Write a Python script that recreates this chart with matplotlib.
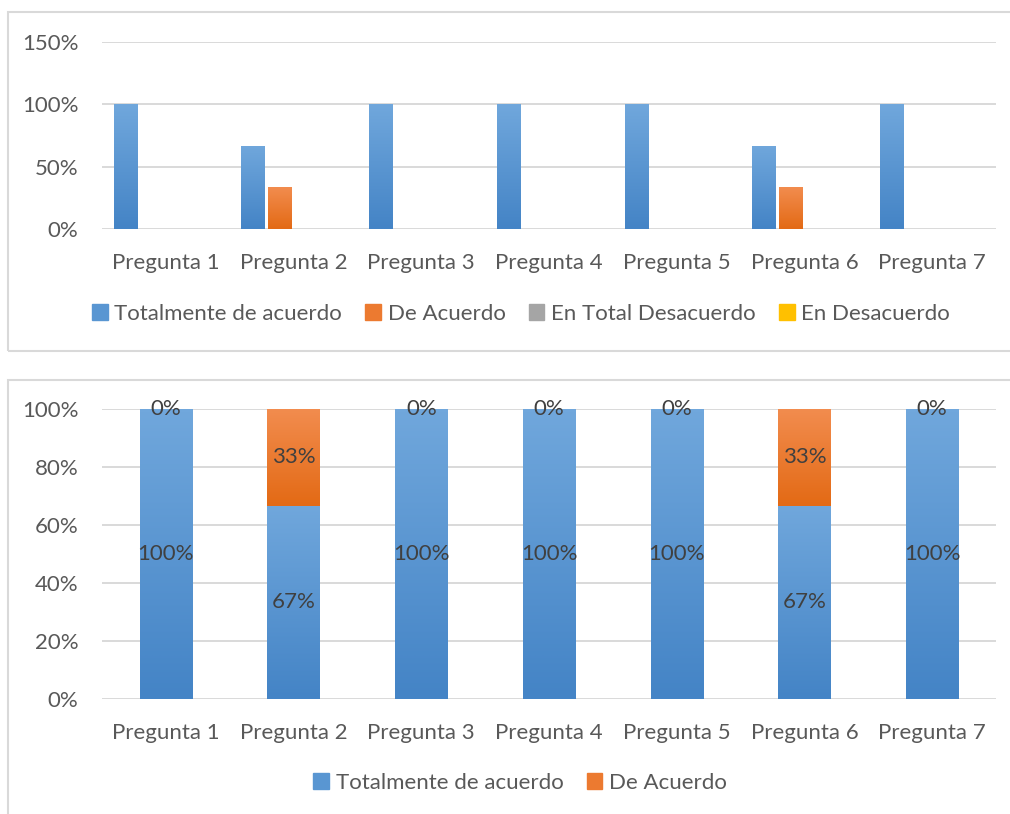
import numpy as np
import matplotlib
matplotlib.use("Agg")
import matplotlib.pyplot as plt
from matplotlib.patches import Rectangle, Patch
from matplotlib.colors import LinearSegmentedColormap

plt.rcParams['font.family'] = ['Lato', 'DejaVu Sans']

preguntas = ["Pregunta 1", "Pregunta 2", "Pregunta 3", "Pregunta 4",
             "Pregunta 5", "Pregunta 6", "Pregunta 7"]
series_arriba = ["Totalmente de acuerdo", "De Acuerdo",
                 "En Total Desacuerdo", "En Desacuerdo"]
totalmente = [1.0, 0.667, 1.0, 1.0, 1.0, 0.667, 1.0]
de_acuerdo = [0.0, 0.333, 0.0, 0.0, 0.0, 0.333, 0.0]
total_desacuerdo = [0, 0, 0, 0, 0, 0, 0]
en_desacuerdo = [0, 0, 0, 0, 0, 0, 0]
ticks_arriba = [0, 0.5, 1.0, 1.5]
ticks_abajo = [0, 0.2, 0.4, 0.6, 0.8, 1.0]

# colores tipo Excel (arriba, abajo del degradado)
colores = [("#70a7dc", "#4484c6"), ("#f28c4e", "#e36a15"),
           ("#b0b0b0", "#999999"), ("#ffc91a", "#e8b000")]
solidos = ["#5996d2", "#ec7a30", "#a5a5a5", "#ffc000"]
texto = "#595959"
grid = "#d9d9d9"
fs = 16

W, H = 1010, 814
fig = plt.figure(figsize=(W / 100, H / 100), dpi=100)

def px(x0, y0, x1, y1):  # caja en pixeles (y desde arriba) -> coords figura
    return [x0 / W, 1 - y1 / H, (x1 - x0) / W, (y1 - y0) / H]

def degradado(ax, barras, top, bottom):
    cmap = LinearSegmentedColormap.from_list("g", [bottom, top])
    for b in barras:
        if b.get_height() <= 0:
            continue
        x, y = b.get_xy()
        im = ax.imshow(np.linspace(0, 1, 64).reshape(-1, 1), cmap=cmap,
                       origin="lower", aspect="auto", interpolation="bilinear",
                       extent=[x, x + b.get_width(), y, y + b.get_height()],
                       zorder=3)
        im.set_clip_path(b)

def estilo(ax, ticks, pad_x, pad_y):
    ax.set_yticks(ticks)
    ax.set_yticklabels([f"{t:.0%}" for t in ticks])
    ax.set_xticks(range(len(preguntas)))
    ax.set_xticklabels(preguntas)
    ax.set_xlim(-0.5, len(preguntas) - 0.5)
    ax.set_ylim(0, ticks[-1])
    ax.grid(axis="y", color=grid, lw=1.4, zorder=0)
    ax.set_axisbelow(True)
    for s in ax.spines.values():
        s.set_visible(False)
    ax.tick_params(length=0, labelsize=fs, labelcolor=texto)
    ax.tick_params(axis="x", pad=pad_x)
    ax.tick_params(axis="y", pad=pad_y)

# marcos de los dos graficos
fig.add_artist(Rectangle((8 / W, 1 - 351 / H), 1.2, 339 / H, transform=fig.transFigure,
                         fill=False, ec=grid, lw=1.5))
fig.add_artist(Rectangle((8 / W, -0.1), 1.2, 0.1 + 1 - 380 / H, transform=fig.transFigure,
                         fill=False, ec=grid, lw=1.5))

# grafico de barras agrupadas
ax1 = fig.add_axes(px(102, 42, 996, 229))
x = np.arange(len(preguntas))
valores = [totalmente, de_acuerdo, total_desacuerdo, en_desacuerdo]
ancho = 0.184
for i, vals in enumerate(valores):
    barras = ax1.bar(x + (i - 1.5) * 0.211, vals, ancho, color=colores[i][1], zorder=2)
    degradado(ax1, barras, *colores[i])
estilo(ax1, ticks_arriba, 17, 17)
fig.legend([Patch(color=c) for c in solidos], series_arriba, loc="center",
           bbox_to_anchor=(521 / W, 1 - 314 / H),
           ncol=4, frameon=False, fontsize=fs, labelcolor=texto,
           handlelength=0.7, handleheight=0.7, handletextpad=0.3, columnspacing=1.05)

# grafico de barras apiladas 100%
ax2 = fig.add_axes(px(102, 409, 996, 699))
b1 = ax2.bar(x, totalmente, 0.41, color=colores[0][1], zorder=2)
b2 = ax2.bar(x, de_acuerdo, 0.41, bottom=totalmente, color=colores[1][1], zorder=2)
degradado(ax2, b1, *colores[0])
degradado(ax2, b2, *colores[1])
for cont in (b1, b2):
    ax2.bar_label(cont, labels=[f"{v:.0%}" for v in cont.datavalues], label_type="center",
                  fontsize=fs, color="#404040", zorder=5)
estilo(ax2, ticks_abajo, 17, 17)
fig.legend([Patch(color=c) for c in solidos[:2]], series_arriba[:2],
           loc="center", bbox_to_anchor=(520 / W, 1 - 783 / H), ncol=2, frameon=False,
           fontsize=fs, labelcolor=texto, handlelength=0.7, handleheight=0.7,
           handletextpad=0.3, columnspacing=1.05)

fig.savefig("out.png", dpi=100, facecolor="white")
